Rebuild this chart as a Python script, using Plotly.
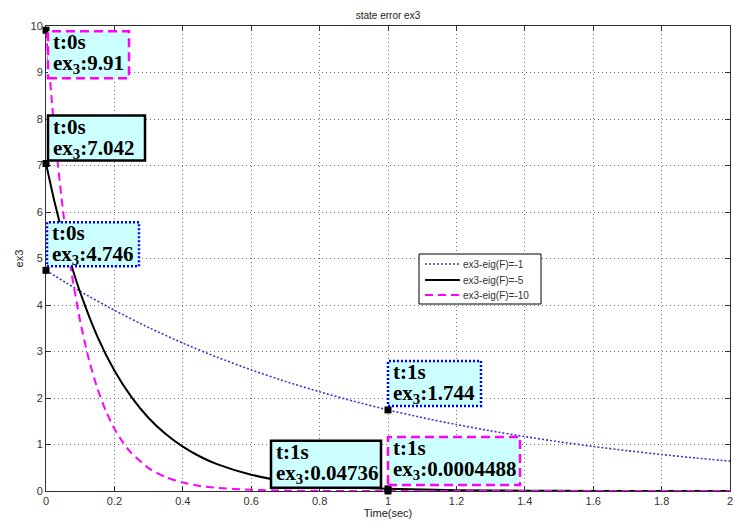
import plotly.graph_objects as go

# Time grids (s)
t_eig1 = [0.0, 0.1, 0.2, 0.3, 0.4, 0.5, 0.6, 0.7, 0.8, 0.9, 1.0,
          1.1, 1.2, 1.3, 1.4, 1.5, 1.6, 1.7, 1.8, 1.9, 2.0]
t_eig5 = [0.0, 0.025, 0.05, 0.075, 0.1, 0.15, 0.2, 0.25, 0.3, 0.35, 0.4,
          0.45, 0.5, 0.6, 0.7, 0.8, 0.9, 1.0, 1.2, 1.4, 1.6, 1.8, 2.0]
t_eig10 = [0.0, 0.025, 0.05, 0.075, 0.1, 0.125, 0.15, 0.175, 0.2, 0.225,
           0.25, 0.3, 0.35, 0.4, 0.45, 0.5, 0.6, 0.7, 0.8, 0.9, 1.0,
           1.2, 1.4, 1.6, 2.0]

# State error ex3 for each closed-loop eigenvalue choice
ex3_eig1 = [4.746, 4.294, 3.886, 3.516, 3.181, 2.879, 2.605, 2.357, 2.133,
            1.930, 1.744, 1.579, 1.429, 1.293, 1.170, 1.059, 0.958, 0.867,
            0.784, 0.710, 0.642]
ex3_eig5 = [7.042, 6.215, 5.484, 4.840, 4.271, 3.326, 2.591, 2.018, 1.571,
            1.224, 0.953, 0.742, 0.578, 0.351, 0.213, 0.129, 0.0782,
            0.04736, 0.0174, 0.00642, 0.00236, 0.00087, 0.00032]
ex3_eig10 = [9.91, 7.718, 6.011, 4.681, 3.646, 2.839, 2.211, 1.722, 1.341,
             1.045, 0.813, 0.493, 0.299, 0.182, 0.110, 0.0668, 0.0246,
             0.00904, 0.00332, 0.00122, 0.0004488, 0.00006, 0.00001, 0.0, 0.0]

series_names = ["ex3-eig(F)=-1", "ex3-eig(F)=-5", "ex3-eig(F)=-10"]

# Data tips: time, value, series index
tip_t = [0, 0, 0, 1, 1, 1]
tip_val = [9.91, 7.042, 4.746, 1.744, 0.04736, 0.0004488]
tip_series = [2, 1, 0, 0, 1, 2]

x_ticks = [0, 0.2, 0.4, 0.6, 0.8, 1, 1.2, 1.4, 1.6, 1.8, 2]
y_ticks = [0, 1, 2, 3, 4, 5, 6, 7, 8, 9, 10]

W, H = 733, 523
ML, MR, MT, MB = 46, 3, 26, 32
PW, PH = W - ML - MR, H - MT - MB

line_styles = [
    dict(color="#3838c0", width=1.6, dash="2px,2px"),
    dict(color="#000000", width=2),
    dict(color="#ff00ff", width=2, dash="8px,5px"),
]
tip_borders = [
    dict(color="#0000ff", width=2.5, dash="2px,2px"),
    dict(color="#000000", width=2.5),
    dict(color="#ff00ff", width=2.5, dash="9px,5px"),
]
# box placement relative to each tip point (pixels: x0, x1, y0, y1; y up)
tip_boxes = [
    (2, 83, -48, -1),
    (2, 99, 3, 48),
    (1, 93, 4, 48),
    (0, 93, 4, 49),
    (-117, -7, 1, 48),
    (0, 132, 6, 54),
]

fig = go.Figure()
for ts, ys, name, ls in zip([t_eig1, t_eig5, t_eig10],
                            [ex3_eig1, ex3_eig5, ex3_eig10],
                            series_names, line_styles):
    fig.add_trace(go.Scatter(
        x=ts, y=ys, mode="lines", name=name, showlegend=False,
        line=dict(shape="spline", smoothing=0.6, **ls),
        cliponaxis=False,
    ))

fig.add_trace(go.Scatter(
    x=tip_t, y=tip_val, mode="markers", showlegend=False,
    marker=dict(symbol="square", size=7, color="black"),
    cliponaxis=False,
))

tip_font = dict(family="Liberation Serif", size=21, color="black")
for t, v, s, (bx0, bx1, by0, by1) in zip(tip_t, tip_val, tip_series, tip_boxes):
    fig.add_shape(
        type="rect", xref="x", yref="y",
        xsizemode="pixel", ysizemode="pixel", xanchor=t, yanchor=v,
        x0=bx0, x1=bx1, y0=by0, y1=by1,
        fillcolor="#ccffff", line=tip_borders[s], layer="above",
    )
    fig.add_annotation(
        x=t, y=v, xref="x", yref="y", showarrow=False,
        xanchor="left", yanchor="middle",
        xshift=bx0 + 3, yshift=by1 - 11,
        text="<b>t:%ds</b>" % t, font=tip_font,
    )
    fig.add_annotation(
        x=t, y=v, xref="x", yref="y", showarrow=False,
        xanchor="left", yanchor="middle",
        xshift=bx0 + 3, yshift=by1 - 33,
        text="<b>ex<sub>3</sub>:%s</b>" % repr(v), font=tip_font,
    )

# Legend box drawn in paper coordinates
def px_x(px):
    return (px - ML) / PW


def px_y(py):
    return (H - MB - py) / PH


fig.add_shape(type="rect", xref="paper", yref="paper",
              x0=px_x(419), x1=px_x(541), y0=px_y(304), y1=px_y(254),
              fillcolor="white", line=dict(color="black", width=1),
              layer="above")
legend_rows = [264, 280, 295]
for name, ls, row in zip(series_names, line_styles, legend_rows):
    fig.add_shape(type="line", xref="paper", yref="paper",
                  x0=px_x(425), x1=px_x(460), y0=px_y(row), y1=px_y(row),
                  line=ls, layer="above")
    fig.add_annotation(x=px_x(461), y=px_y(row), xref="paper", yref="paper",
                       xanchor="left", yanchor="middle", showarrow=False,
                       text=name,
                       font=dict(family="Liberation Sans", size=10,
                                 color="#333333"))

axis_common = dict(
    showgrid=True, gridcolor="#707070", griddash="1px,3px", gridwidth=1,
    showline=True, linecolor="#303030", linewidth=1, mirror="ticks",
    ticks="inside", ticklen=5, tickcolor="#303030", zeroline=False,
    tickfont=dict(family="Liberation Sans", size=11, color="#333333"),
    layer="below traces", ticklabeloverflow="allow",
)

fig.update_layout(
    width=W, height=H,
    margin=dict(l=ML, r=MR, t=MT, b=MB),
    paper_bgcolor="white", plot_bgcolor="white",
    title=dict(text="state error ex3", x=0.5, xref="paper", xanchor="center",
               y=1 - 15 / H, yref="container", yanchor="middle",
               font=dict(family="Liberation Sans", size=10, color="#222222")),
    xaxis=dict(range=[0, 2], tickvals=x_ticks,
               title=dict(text="Time(sec)", standoff=3,
                          font=dict(family="Liberation Sans", size=11,
                                    color="#222222")),
               automargin=False, **axis_common),
    yaxis=dict(range=[0, 10], tickvals=y_ticks,
               title=dict(text="ex3", standoff=4,
                          font=dict(family="Liberation Sans", size=11,
                                    color="#222222")),
               automargin=False, **axis_common),
    showlegend=False,
)

fig.write_html("out.html")
